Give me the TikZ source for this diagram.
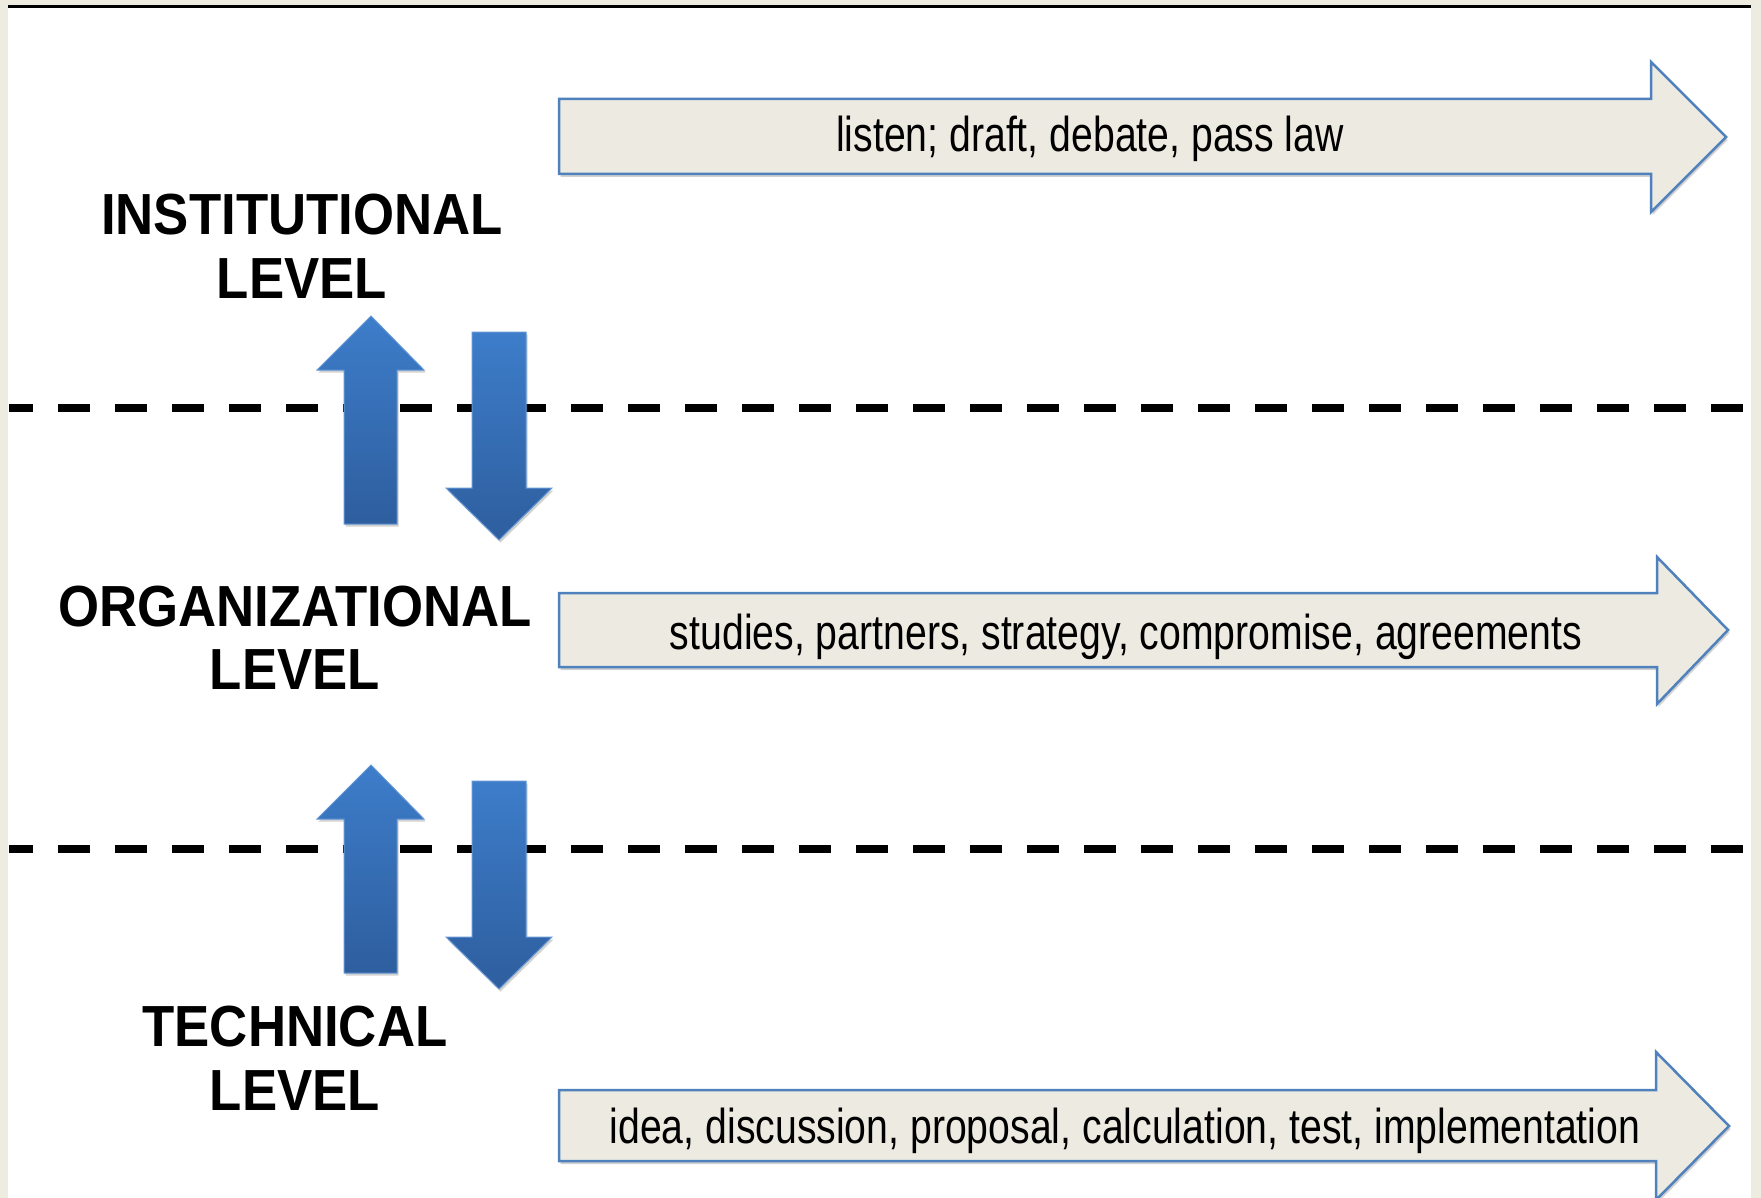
\documentclass[tikz,border=0pt]{standalone}
\usepackage{fontspec}
\setmainfont{Liberation Sans}
\newfontfamily\narrowfont[FakeStretch=0.8]{Liberation Sans}
\newfontfamily\levelfont[FakeStretch=0.91]{Liberation Sans}
\usetikzlibrary{shadows}
\definecolor{bgbeige}{RGB}{238,236,225}
\definecolor{boxfill}{RGB}{237,235,225}
\definecolor{boxline}{RGB}{79,129,189}
\definecolor{uptop}{RGB}{61,125,202}
\definecolor{upbot}{RGB}{46,94,158}
\begin{document}
\begin{tikzpicture}[x=1pt,y=-1pt,
    levelline/.style={line width=8pt,dash pattern=on 32pt off 25pt,dash phase=8pt},
    flowarrow/.style={draw=boxline,fill=boxfill,line width=2.5pt,line join=miter,
        drop shadow={shadow xshift=1.5pt,shadow yshift=-3pt,opacity=.25,fill=black!70}},
    flowtext/.style={anchor=base,inner sep=0pt,font=\narrowfont\fontsize{49}{55}\selectfont},
    updown/.style={top color=uptop,bottom color=upbot,draw=uptop!80!white,line width=1pt,
        drop shadow={shadow xshift=1.5pt,shadow yshift=-2.5pt,opacity=.25,fill=black!70}},
    levellabel/.style={align=center,inner sep=0pt,font=\levelfont\bfseries\fontsize{58}{63.5}\selectfont}]
\useasboundingbox (0,0) rectangle (1761,1198);
\fill[bgbeige] (0,0) rectangle (1761,1198);
\fill[white] (8,7) rectangle (1751,1198);
\draw[line width=3pt] (8,6.5)--(1751,6.5);
\foreach \y in {408,849}
    \draw[levelline] (9,\y)--(1749,\y);
\foreach \dy in {0,449}{
    \path[updown] (344,524+\dy)--(344,370+\dy)--(317,370+\dy)--(371,316+\dy)--(424,370+\dy)--(397,370+\dy)--(397,524+\dy)--cycle;
    \path[updown] (472,332+\dy)--(526,332+\dy)--(526,488+\dy)--(552,488+\dy)--(499,540+\dy)--(446,488+\dy)--(472,488+\dy)--cycle;
}
\path[flowarrow] (559,99)--(1651,99)--(1651,62)--(1726,137)--(1651,212)--(1651,174)--(559,174)--cycle;
\path[flowarrow] (559,593)--(1657,593)--(1657,557)--(1728,630)--(1657,704)--(1657,667)--(559,667)--cycle;
\path[flowarrow] (559,1090)--(1656,1090)--(1656,1052)--(1729,1126)--(1656,1200)--(1656,1161)--(559,1161)--cycle;
\node[flowtext] (instwork) at (1090,152) {listen; draft, debate, pass law};
\node[flowtext] (orgwork) at (1126,649) {studies, partners, strategy, compromise, agreements};
\node[flowtext] (techwork) at (1125,1143) {idea, discussion, proposal, calculation, test, implementation};
\node[levellabel] (inst) at (302,246.5) {INSTITUTIONAL\\LEVEL};
\node[levellabel] (org) at (295,637.5) {ORGANIZATIONAL\\LEVEL};
\node[levellabel] (tech) at (295,1058) {TECHNICAL\\LEVEL};
\end{tikzpicture}
\end{document}
